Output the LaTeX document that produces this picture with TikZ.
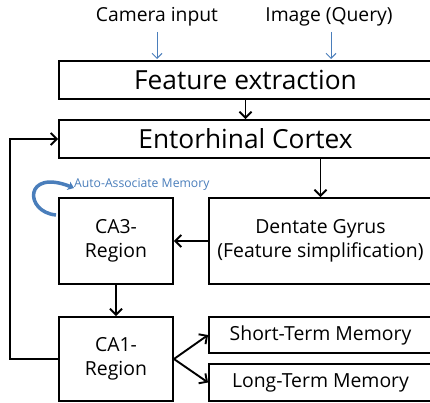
\documentclass[tikz,border=0pt]{standalone}
\usepackage{fontspec}
\setmainfont{Open Sans}
\usetikzlibrary{arrows.meta}
\definecolor{ablue}{HTML}{4A7EBB}
\tikzset{
  x=1pt,y=-1pt,
  box/.style={draw=black, line width=1.9pt, inner sep=0pt, align=center, font=\fontsize{19.4}{24}\selectfont},
  bigbox/.style={box, font=\fontsize{26.3}{30}\selectfont},
  conn/.style={line width=1.9pt, -{Straight Barb[length=6pt,width=12pt,line width=1.9pt]}},
  bconn/.style={ablue, line width=1pt, -{Straight Barb[length=5pt,width=10pt,line width=1pt]}},
  lab/.style={inner sep=0pt, font=\fontsize{19.3}{23}\selectfont},
}
\begin{document}
\begin{tikzpicture}
\useasboundingbox (0,0) rectangle (430,403);
\clip (0,0) rectangle (430,403);
\fill[white] (0,0) rectangle (430,403);
% boxes
\node[bigbox, minimum width=373pt, minimum height=38pt] (feat) at (245.5,80) {Feature extraction};
\node[bigbox, minimum width=373pt, minimum height=38pt] (ec) at (245.5,139) {Entorhinal Cortex};
\node[box, minimum width=114pt, minimum height=86pt] (ca3) at (116,241) {CA3-\\Region};
\node[box, minimum width=223pt, minimum height=86pt] (dg) at (320.5,241) {Dentate Gyrus\\(Feature simplification)};
\node[box, minimum width=114pt, minimum height=84pt] (ca1) at (116,359) {CA1-\\Region};
\node[box, minimum width=223pt, minimum height=36pt] (stm) at (320.5,335) {Short-Term Memory};
\node[box, minimum width=223pt, minimum height=37pt] (ltm) at (320.5,382.5) {Long-Term Memory};
% inputs
\node[lab] (cam) at (157,17) {Camera input};
\node[lab] (img) at (329,17) {Image (Query)};
\draw[bconn] (157,32) -- (157,59);
\draw[bconn] (331,32) -- (331,59);
% connectors
\draw[conn] (feat.south) -- (ec.north);
\draw[conn] (dg.north |- ec.south) -- (dg.north);
\draw[conn] (dg.west) -- (ca3.east);
\draw[conn] (ca3.south) -- (ca1.north);
\draw[conn] (ca1.east) -- (stm.west);
\draw[conn] (ca1.east) -- (ltm.west);
\coordinate (fb1) at (10,359);
\coordinate (fb2) at (10,139);
\draw[conn] (ca1.west) -- (fb1) -- (fb2) -- (ec.west);
% auto-associate
\coordinate (aa1) at (56,215);
\coordinate (aa2) at (74,188);
\draw[ablue, line width=3.5pt, -{Stealth[length=6pt,width=9pt]}] (aa1) .. controls (24,212) and (24,168) .. (aa2);
\node[anchor=west, inner sep=0pt, text=ablue, font=\fontsize{12.2}{14}\selectfont] (aam) at (74,184) {Auto-Associate Memory};
\end{tikzpicture}
\end{document}
